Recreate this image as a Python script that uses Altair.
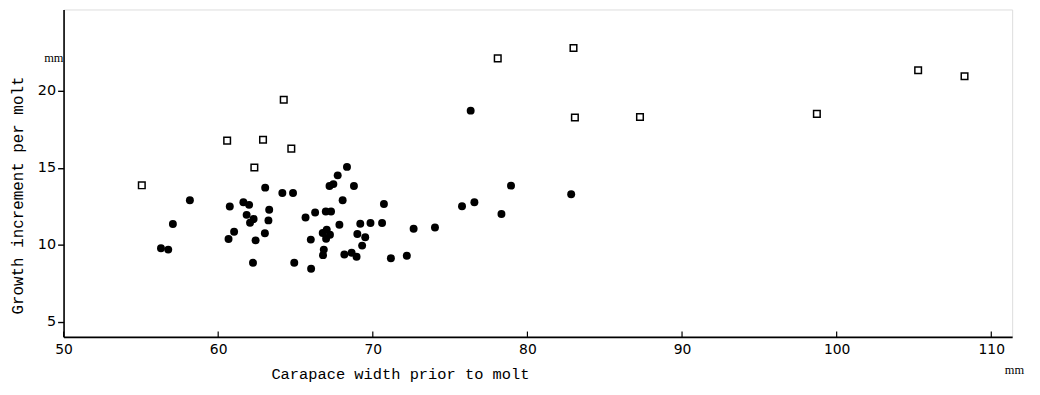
import altair as alt
import pandas as pd

# Open squares (carapace width mm, growth increment mm)
sq_x = [55.06, 60.58, 62.90, 64.73, 62.34, 64.24, 78.08, 82.98, 83.07, 87.28, 98.72, 105.27, 108.27]
sq_y = [13.86, 16.77, 16.83, 16.25, 15.02, 19.43, 22.12, 22.79, 18.27, 18.31, 18.51, 21.35, 20.96]

# Filled circles
dot_x = [58.17, 57.07, 56.30, 56.77, 60.75, 61.63, 62.00, 61.84, 62.29, 62.06,
         63.30, 63.25, 63.04, 64.15, 64.84, 61.03, 60.67, 62.42, 63.02, 62.25,
         64.92, 66.01, 65.65, 66.27, 66.96, 67.30, 65.99, 67.20, 67.45, 67.73,
         68.33, 68.78, 68.05, 67.02, 66.76, 67.23, 66.98, 67.84, 66.83, 66.78,
         68.16, 68.63, 68.95, 69.31, 69.51, 69.00, 69.19, 69.85, 70.72, 70.60,
         72.64, 71.17, 72.20, 74.02, 75.77, 76.57, 78.32, 78.94, 82.83, 76.33]
dot_y = [12.89, 11.34, 9.77, 9.68, 12.48, 12.76, 12.59, 11.94, 11.67, 11.43,
         12.27, 11.58, 13.71, 13.36, 13.36, 10.84, 10.37, 10.28, 10.74, 8.82,
         8.82, 8.44, 11.77, 12.09, 12.16, 12.16, 10.33, 13.82, 13.94, 14.51,
         15.06, 13.82, 12.89, 10.98, 10.76, 10.65, 10.39, 11.30, 9.68, 9.32,
         9.36, 9.47, 9.21, 9.94, 10.48, 10.70, 11.36, 11.41, 12.65, 11.41,
         11.04, 9.12, 9.28, 11.12, 12.50, 12.76, 11.99, 13.84, 13.28, 18.72]

x_ticks = [50, 60, 70, 80, 90, 100, 110]
y_ticks = [5, 10, 15, 20]

unit_x = [49.37, 111.5]
unit_y = [22.14, 1.87]
unit_text = ["mm", "mm"]

squares = pd.DataFrame({"x": sq_x, "y": sq_y})
dots = pd.DataFrame({"x": dot_x, "y": dot_y})
ticks = pd.DataFrame({"x": x_ticks, "y": [4.0] * len(x_ticks), "y2": [4.35] * len(x_ticks)})
units = pd.DataFrame({"x": unit_x, "y": unit_y, "t": unit_text})

X = alt.X(
    "x:Q",
    scale=alt.Scale(domain=[50, 111.35], nice=False, zero=False),
    axis=alt.Axis(
        title="Carapace width prior to molt",
        values=x_ticks,
        ticks=False,
        grid=False,
        domainColor="black",
        domainWidth=1.6,
        labelFont="DejaVu Sans",
        labelFontSize=14,
        labelColor="black",
        labelPadding=6,
        labelFlush=False,
        titleFont="Liberation Mono",
        titleFontSize=15.5,
        titleFontWeight="normal",
        titleColor="black",
        titleX=339,
        titleY=42,
        titleAlign="center",
        titleBaseline="alphabetic",
    ),
)
Y = alt.Y(
    "y:Q",
    scale=alt.Scale(domain=[4, 25.3], nice=False, zero=False),
    axis=alt.Axis(
        title="Growth increment per molt",
        values=y_ticks,
        ticks=True,
        tickSize=6,
        tickColor="black",
        tickWidth=1.4,
        grid=False,
        domainColor="black",
        domainWidth=1.6,
        labelFont="DejaVu Sans",
        labelFontSize=14.5,
        labelColor="black",
        labelPadding=2,
        labelFlush=False,
        titleFont="Liberation Mono",
        titleFontSize=16,
        titleFontWeight="normal",
        titleColor="black",
        titleX=-46,
        titleY=187,
        titleAlign="center",
        titleBaseline="middle",
    ),
)

sq_layer = alt.Chart(squares).mark_point(
    shape="square", filled=False, stroke="black", strokeWidth=1.5, size=44, opacity=1
).encode(x=X, y=Y)

dot_layer = alt.Chart(dots).mark_circle(
    size=64, color="black", opacity=1
).encode(x=X, y=Y)

tick_layer = alt.Chart(ticks).mark_rule(color="black", strokeWidth=1.2).encode(
    x=X, y=Y, y2=alt.Y2("y2:Q")
)

unit_layer = alt.Chart(units).mark_text(
    font="Liberation Serif", fontSize=12.5, color="black", align="center", baseline="middle"
).encode(x=X, y=Y, text="t:N")

chart = (
    alt.layer(tick_layer, sq_layer, dot_layer, unit_layer)
    .properties(
        width=956,
        height=330,
        autosize=alt.AutoSizeParams(type="none"),
        padding={"left": 56, "top": 0, "right": 20, "bottom": 50},
    )
    .configure_view(strokeWidth=0)
    .configure(background="white")
)

chart.save("out.html", embed_options={"renderer": "svg", "actions": False})
